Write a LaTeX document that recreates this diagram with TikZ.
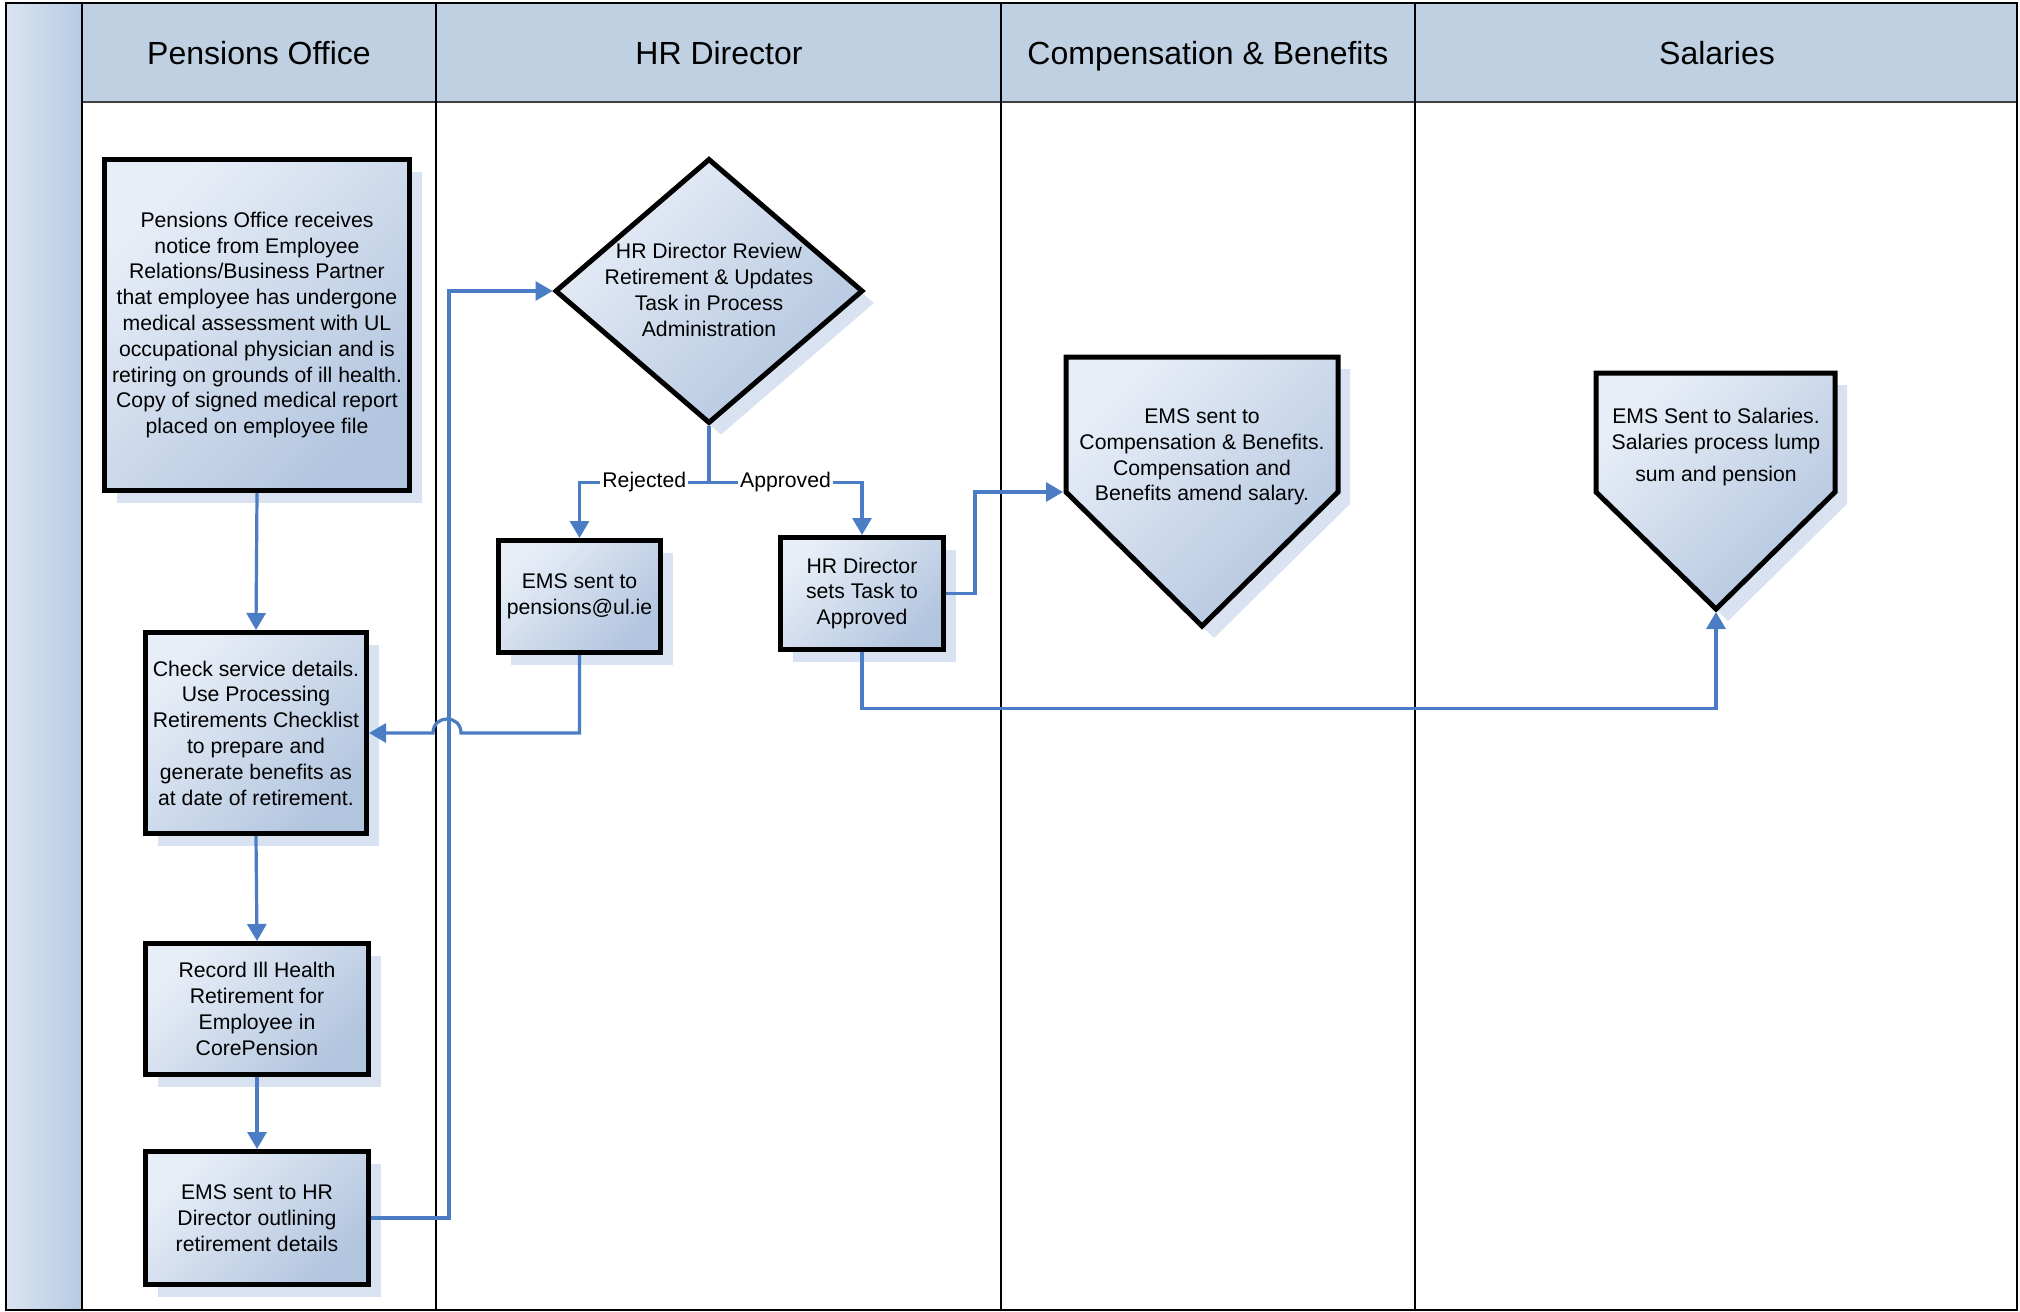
\documentclass[tikz,border=0pt]{standalone}
\usepackage{fontspec}
\setmainfont{Liberation Sans}
\usetikzlibrary{arrows.meta,shapes.geometric,shadows}
\definecolor{gA}{HTML}{E8EEF7}
\definecolor{gB}{HTML}{B2C5DF}
\definecolor{shc}{HTML}{D9E2F1}
\definecolor{conn}{HTML}{4A7DC3}
\definecolor{hdr}{HTML}{C0D0E3}
\definecolor{bandR}{HTML}{B8CBE4}
\definecolor{bandL}{HTML}{DAE3F1}
\begin{document}
\begin{tikzpicture}[x=0.5pt,y=-0.5pt,
  shp/.style={draw=black, line width=2.5pt, top color=gA, bottom color=gB, shading angle=45,
    drop shadow={shadow xshift=6pt, shadow yshift=-6pt, fill=shc, opacity=1}},
  proc/.style={shp, inner sep=0pt, align=center, font=\fontsize{10.6}{12.9}\selectfont},
  txt/.style={inner sep=0pt, align=center, font=\fontsize{10.6}{12.9}\selectfont},
  hdrtxt/.style={inner sep=0pt, anchor=base, font=\fontsize{16}{18}\selectfont},
  lbl/.style={fill=white, inner sep=1pt, font=\fontsize{10.6}{12}\selectfont},
  conn/.style={draw=conn, line width=1.6pt, -{Triangle[width=9.5pt,length=8.5pt]}},
  lane/.style={draw=black, line width=1pt}
]
\useasboundingbox (0,0) rectangle (2020,1312);
% swimlane frame
\shade[left color=bandL, right color=bandR] (6,3) rectangle (82,1310);
\fill[hdr] (82,3) rectangle (2017,102);
\draw[lane, draw=black!75] (82,102) -- (2017,102);
\draw[lane] (82,3) -- (82,1310);
\draw[lane] (436,3) -- (436,1310);
\draw[lane] (1001,3) -- (1001,1310);
\draw[lane] (1415,3) -- (1415,1310);
\draw[line width=1.4pt] (6,3) rectangle (2017,1310);

\node[hdrtxt] (h1) at (259,64) {Pensions Office};
\node[hdrtxt] (h2) at (719,64) {HR Director};
\node[hdrtxt] (h3) at (1208,64) {Compensation \& Benefits};
\node[hdrtxt] (h4) at (1717,64) {Salaries};

% process boxes
\node[proc, minimum width=152.5pt, minimum height=165.5pt] (b1) at (257,325)
 {Pensions Office receives\\notice from Employee\\Relations/Business Partner\\that employee has undergone\\medical assessment with UL\\occupational physician and is\\retiring on grounds of ill health.\\Copy of signed medical report\\placed on employee file};
\node[proc, minimum width=110.5pt, minimum height=100.5pt] (b2) at (256,733)
 {Check service details.\\Use Processing\\Retirements Checklist\\to prepare and\\generate benefits as\\at date of retirement.};
\node[proc, minimum width=111.5pt, minimum height=65.5pt] (b3) at (257,1009)
 {Record Ill Health\\Retirement for\\Employee in\\CorePension};
\node[proc, minimum width=111.5pt, minimum height=66.5pt] (b4) at (257,1218)
 {EMS sent to HR\\Director outlining\\retirement details};

\node[shp, diamond, inner sep=0pt, minimum width=154pt, minimum height=132.5pt] (dia) at (709,291) {};
\node[txt] (diat) at (709,290) {HR Director Review\\Retirement \& Updates\\Task in Process\\Administration};

\node[proc, minimum width=81pt, minimum height=56pt] (rej) at (579.5,596.5)
 {EMS sent to\\pensions@ul.ie};
\node[proc, minimum width=81.5pt, minimum height=56pt] (app) at (862,593.5)
 {HR Director\\sets Task to\\Approved};

% pentagons (off-page shapes)
\fill[shc] (1078,369) -- (1350,369) -- (1350,504) -- (1214,638) -- (1078,504) -- cycle;
\shade[draw=black, line width=2.5pt, top color=gA, bottom color=gB, shading angle=45]
  (1066,357) -- (1338,357) -- (1338,492) -- (1202,626) -- (1066,492) -- cycle;
\node[txt] (p1t) at (1202,457) {EMS sent to\\Compensation \& Benefits.\\Compensation and\\Benefits amend salary.};
\coordinate (p1w) at (1063,492);

\fill[shc] (1608,385) -- (1847,385) -- (1847,504) -- (1728,621) -- (1608,504) -- cycle;
\shade[draw=black, line width=2.5pt, top color=gA, bottom color=gB, shading angle=45]
  (1596,373) -- (1835,373) -- (1835,492) -- (1716,609) -- (1596,492) -- cycle;
\node[txt] (p2t) at (1716,447) {EMS Sent to Salaries.\\Salaries process lump\\[3pt]sum and pension};
\coordinate (p2tip) at (1716,612);

% connectors
\draw[conn] (b1.south) -- (b2.north);
\draw[conn] (b2.south) -- (b3.north);
\draw[conn] (b3.south) -- (b4.north);
\draw[conn] (b4.east) -- ++(78,0) |- (dia.west);
\draw[conn] (dia.south) -- ++(0,56.5) coordinate (split) -| (rej.north) node[lbl, pos=0.25] (lrej) {Rejected};
\draw[conn] (split) -| (app.north) node[lbl, pos=0.25] (lapp) {Approved};
\coordinate (hopR) at (461,733);
\coordinate (hopL) at (433,733);
\draw[conn] (rej.south) |- (hopR) .. controls +(0,-18.7) and +(0,-18.7) .. (hopL) -- (b2.east);
\draw[conn] (app.east) -- ++(29,0) |- (p1w);
\draw[conn] (app.south) -- ++(0,56.5) -| (p2tip);
\end{tikzpicture}
\end{document}
